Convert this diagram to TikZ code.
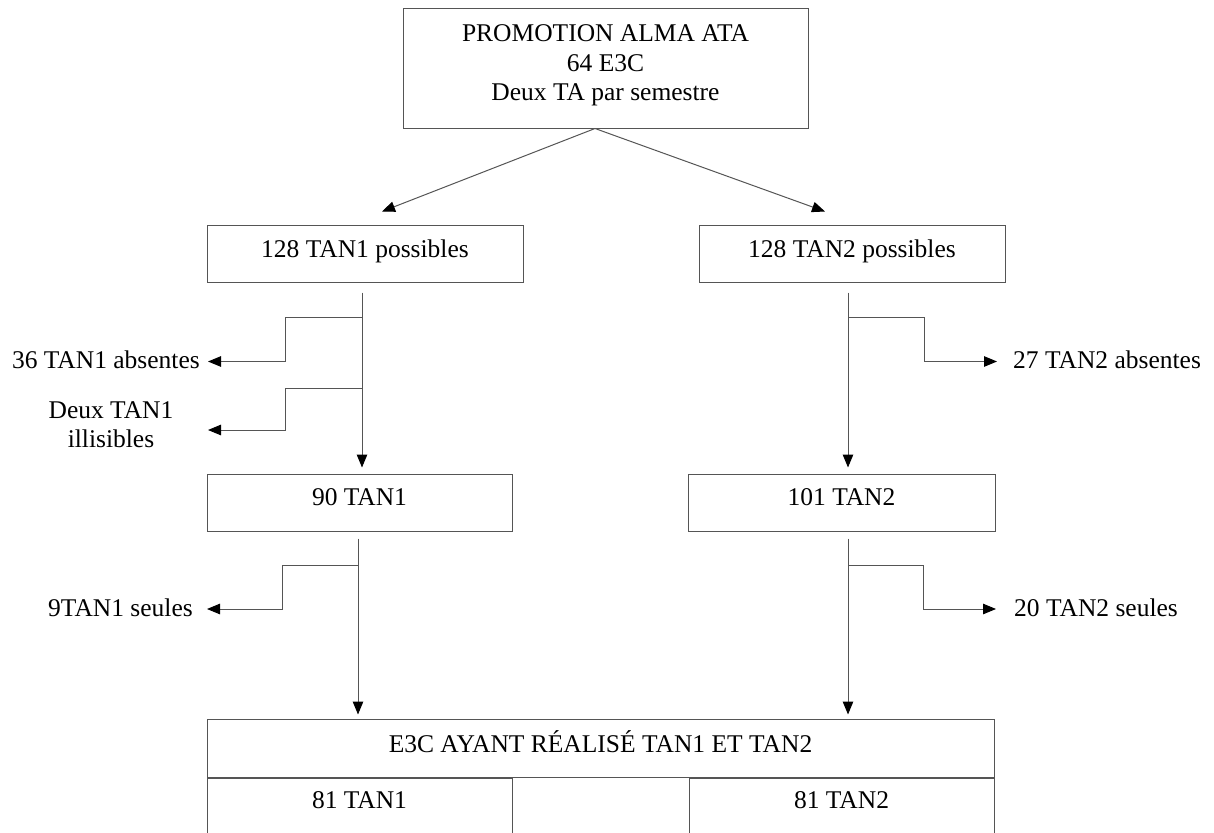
\documentclass[tikz,border=0pt]{standalone}
\usepackage{fontspec}
\setmainfont{Liberation Serif}
\usetikzlibrary{arrows.meta}
\definecolor{linegray}{RGB}{85,85,85}
\begin{document}
\begin{tikzpicture}[x=1pt,y=-1pt,
  box/.style={draw=linegray, line width=1pt, inner sep=0pt, rectangle},
  txt/.style={font=\fontsize{25.5}{29.5}\selectfont, inner sep=0pt, text=black},
  link/.style={draw=linegray, line width=1pt},
  arr/.style={link, -{Triangle[length=13pt,width=10.5pt,color=black]}}]
\clip (0,0) rectangle (1214,832);
\fill[white] (0,0) rectangle (1214,832);

% boxes
\node[box, minimum width=405pt, minimum height=119pt] (top) at (605.5,68.5) {};
\node[txt, anchor=base] (t1) at (605.5,42) {PROMOTION ALMA ATA};
\node[txt, anchor=base] (t2) at (605.5,71.5) {64 E3C};
\node[txt, anchor=base] (t3) at (605.5,101) {Deux TA par semestre};

\node[box, minimum width=316pt, minimum height=57pt] (p1) at (365,253.5) {};
\node[txt, anchor=base] (p1t) at (365,257) {128 TAN1 possibles};
\node[box, minimum width=306pt, minimum height=57pt] (p2) at (852,253.5) {};
\node[txt, anchor=base] (p2t) at (852,257) {128 TAN2 possibles};

\node[box, minimum width=305pt, minimum height=57pt] (n90) at (359.5,502.5) {};
\node[txt, anchor=base] (n90t) at (359.5,505) {90 TAN1};
\node[box, minimum width=307pt, minimum height=57pt] (n101) at (841.5,502.5) {};
\node[txt, anchor=base] (n101t) at (841.5,505) {101 TAN2};

\node[box, minimum width=787pt, minimum height=58pt] (main) at (600.5,748) {};
\node[txt, anchor=base] (maint) at (600.5,752) {E3C AYANT RÉALISÉ TAN1 ET TAN2};
\node[box, minimum width=305pt, minimum height=82pt] (s1) at (359.5,819) {};
\node[txt, anchor=base] (s1t) at (359.5,808) {81 TAN1};
\node[box, minimum width=305pt, minimum height=82pt] (s2) at (841.5,819) {};
\node[txt, anchor=base] (s2t) at (841.5,808) {81 TAN2};

% side labels
\node[txt, anchor=base east, inner xsep=8pt] (lab36) at (208,368.5) {36 TAN1 absentes};
\node[txt, anchor=base] (deux1) at (111,418) {Deux TAN1};
\node[txt, anchor=base] (deux2) at (111,447) {illisibles};
\node[txt, anchor=base east, inner xsep=14pt] (lab9) at (207,616.5) {9TAN1 seules};
\node[txt, anchor=base west, inner xsep=16pt] (lab27) at (997,368.5) {27 TAN2 absentes};
\node[txt, anchor=base west, inner xsep=18pt] (lab20) at (996,616.5) {20 TAN2 seules};

% top diagonal arrows
\coordinate (apex) at (595,128.5);
\draw[arr] (apex) -- ([xshift=17pt,yshift=13pt]p1.north);
\draw[arr] (apex) -- ([xshift=-27pt,yshift=13pt]p2.north);

% trunks
\coordinate (L1) at (362,0);
\coordinate (L2) at (358,0);
\coordinate (R1) at (848,0);
\draw[arr, shorten <=10pt, shorten >=6pt] (p1.south -| L1) -- (n90.north -| L1);
\draw[arr, shorten <=7pt, shorten >=4pt] (n90.south -| L2) -- (main.north -| L2);
\draw[arr, shorten <=10pt, shorten >=6pt] (p2.south -| R1) -- (n101.north -| R1);
\draw[arr, shorten <=7pt, shorten >=4pt] (n101.south -| R1) -- (main.north -| R1);

% branches left
\coordinate (a1) at (362,317); \coordinate (a2) at (285,317); \coordinate (a3) at (285,361.5);
\draw[arr] (a1) -- (a2) -- (a3) -- (a3 -| lab36.east);
\coordinate (b1) at (362,388); \coordinate (b2) at (285,388); \coordinate (b3) at (285,430);
\coordinate (btip) at (208,430);
\draw[arr] (b1) -- (b2) -- (b3) -- (btip);
\coordinate (c1) at (358,565); \coordinate (c2) at (282,565); \coordinate (c3) at (282,609);
\draw[arr] (c1) -- (c2) -- (c3) -- (c3 -| lab9.east);

% branches right
\coordinate (d1) at (848,317); \coordinate (d2) at (924,317); \coordinate (d3) at (924,361.5);
\draw[arr] (d1) -- (d2) -- (d3) -- (d3 -| lab27.west);
\coordinate (e1) at (848,565); \coordinate (e2) at (923,565); \coordinate (e3) at (923,609);
\draw[arr] (e1) -- (e2) -- (e3) -- (e3 -| lab20.west);
\end{tikzpicture}
\end{document}
